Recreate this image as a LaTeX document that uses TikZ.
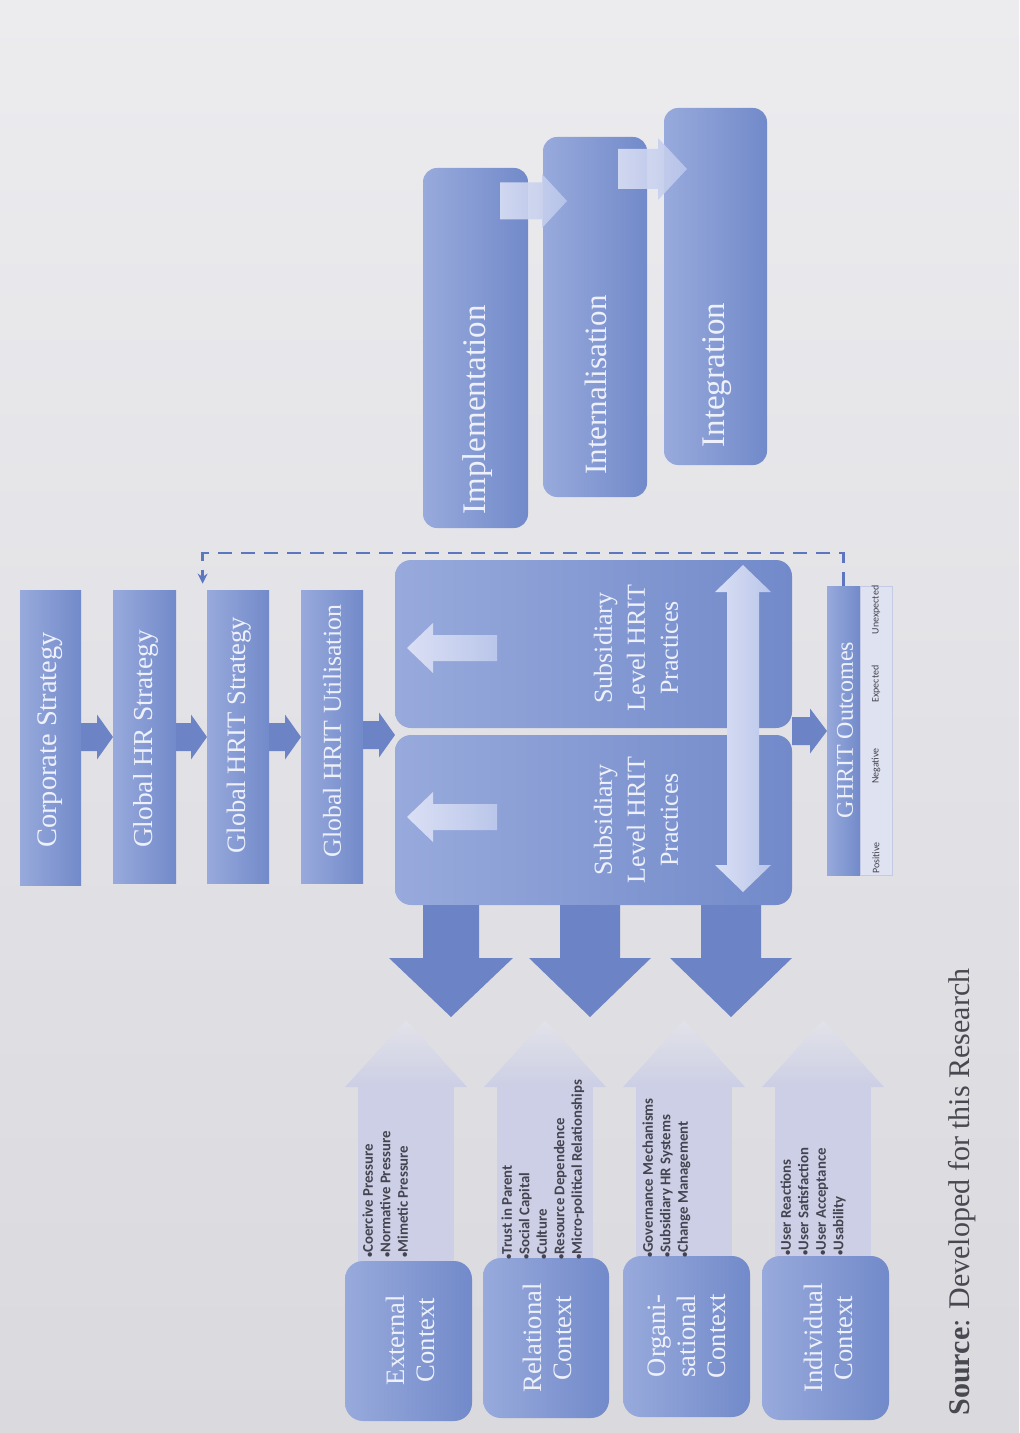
\documentclass[tikz,border=0pt]{standalone}
\usepackage{graphicx}
\usepackage{fontspec}
\setmainfont{Liberation Serif}
\newfontfamily\bulletfont{Carlito}
\usetikzlibrary{arrows.meta,calc}

\definecolor{bgtop}{RGB}{236,236,239}
\definecolor{bgbot}{RGB}{217,217,222}
\definecolor{boxlight}{RGB}{152,170,220}
\definecolor{boxdark}{RGB}{114,138,202}
\definecolor{arrowblue}{RGB}{108,132,198}
\definecolor{paleblue}{RGB}{204,207,229}
\definecolor{paletip}{RGB}{226,226,233}
\definecolor{labelwhite}{RGB}{238,241,251}
\definecolor{bullettext}{RGB}{68,68,80}
\definecolor{fbline}{RGB}{92,118,192}
\definecolor{outlight}{RGB}{223,226,241}
\definecolor{outedge}{RGB}{196,202,228}
\definecolor{glow}{RGB}{218,223,244}
\definecolor{glowdark}{RGB}{186,198,234}
\definecolor{sourcegray}{RGB}{72,72,80}

% small list bullet
\newcommand\bul{\scalebox{0.7}{•}}
% horizontal block arrow: style, shaft start x, head base x, tip x, centre y, shaft half width, head half width
\newcommand\harrow[7]{\path[#1] (#2,#5-#6) -- (#3,#5-#6) -- (#3,#5-#7) -- (#4,#5) -- (#3,#5+#7) -- (#3,#5+#6) -- (#2,#5+#6) -- cycle;}
% vertical block arrow: style, shaft start y, head base y, tip y, centre x, shaft half width, head half width
\newcommand\varrow[7]{\path[#1] (#5-#6,#2) -- (#5-#6,#3) -- (#5-#7,#3) -- (#5,#4) -- (#5+#7,#3) -- (#5+#6,#3) -- (#5+#6,#2) -- cycle;}
% pale upward context arrow: centre x
\newcommand\ctxarrow[1]{%
  \fill[paleblue] (#1-48,1086) rectangle (#1+48,1272);
  \path[top color=paletip,bottom color=paleblue] (#1,1020) -- (#1+61,1087) -- (#1-61,1087) -- cycle;}

\tikzset{
  bluebox/.style={rectangle, inner sep=0pt, draw=none, left color=boxlight, right color=boxdark},
  roundbox/.style={bluebox, rounded corners=8pt},
  boxlabel/.style={rotate=90, text=labelwhite, align=center, inner sep=0pt},
  bullets/.style={rotate=90, anchor=north west, align=left, inner sep=0pt, text=bullettext,
    font=\bulletfont\bfseries\fontsize{7.4}{8.75}\selectfont},
  arrowfill/.style={fill=arrowblue},
  glowfill/.style={left color=glow, right color=glowdark},
  fb/.style={draw=fbline, line width=1.4pt, dash pattern=on 7pt off 4.5pt},
  outtag/.style={rotate=90, inner sep=0pt, text=bullettext, font=\bulletfont\fontsize{5}{6}\selectfont},
}

\begin{document}
\begin{tikzpicture}[x=0.5pt,y=-0.5pt]
\useasboundingbox (0,0) rectangle (1019,1433);
\fill[top color=bgtop,bottom color=bgbot] (0,0) rectangle (1019,1433);

% ---- strategy chain ----
\node[bluebox, minimum width=30.5pt, minimum height=147.5pt] (cs) at (50.5,737.5) {};
\node[bluebox, minimum width=31.5pt, minimum height=146.5pt] (ghr) at (144.5,736.5) {};
\node[bluebox, minimum width=31pt, minimum height=146.5pt] (ghrits) at (238,736.5) {};
\node[bluebox, minimum width=31pt, minimum height=146.5pt] (ghritu) at (332,736.5) {};
\node[boxlabel, font=\fontsize{14.2}{16}\selectfont] (cs-l) at (50,740) {Corporate Strategy};
\node[boxlabel, font=\fontsize{13.7}{16}\selectfont] (ghr-l) at (146,739) {Global HR Strategy};
\node[boxlabel, font=\fontsize{13.3}{16}\selectfont] (ghrits-l) at (239,735) {Global HRIT Strategy};
\node[boxlabel, font=\fontsize{12.9}{16}\selectfont] (ghritu-l) at (332,731) {Global HRIT Utilisation};

\harrow{arrowfill}{81}{97}{113}{737}{14}{22.5}
\harrow{arrowfill}{176}{191}{207}{737}{14}{22.5}
\harrow{arrowfill}{269}{285}{301}{737}{14}{22.5}
\harrow{arrowfill}{363}{379}{395}{735}{14}{22.5}

% ---- subsidiary practices ----
\node[roundbox, minimum width=198.5pt, minimum height=84pt] (subA) at (593.5,644) {};
\node[roundbox, minimum width=198.5pt, minimum height=85pt] (subB) at (593.5,820) {};
\harrow{glowfill}{497}{433}{407}{648}{13}{25}
\harrow{glowfill}{497}{433}{407}{817}{13}{25}
\path[left color=glow, right color=glowdark]
  (743,565) -- (771,592) -- (759,592) -- (759,865) -- (771,865) -- (743,892)
  -- (715,865) -- (727,865) -- (727,592) -- (715,592) -- cycle;
\node[boxlabel, font=\fontsize{13}{16.5}\selectfont] (subA-l) at (636,648) {Subsidiary\\Level HRIT\\Practices};
\node[boxlabel, font=\fontsize{13}{16.5}\selectfont] (subB-l) at (636,820) {Subsidiary\\Level HRIT\\Practices};

\harrow{arrowfill}{792}{810}{827}{731}{14}{22.5}

% ---- outcomes ----
\node[bluebox, minimum width=16.5pt, minimum height=144.5pt] (out) at (843.5,730.5) {};
\node[rectangle, inner sep=0pt, fill=outlight, draw=outedge, line width=0.4pt,
      minimum width=16pt, minimum height=144.5pt] (outlist) at (876,730.5) {};
\node[boxlabel, font=\fontsize{12}{14}\selectfont] (out-l) at (845,730) {GHRIT Outcomes};
\node[outtag] (pos) at (876,858) {Positive};
\node[outtag] (neg) at (876,766) {Negative};
\node[outtag] (exp) at (876,684) {Expected};
\node[outtag] (unexp) at (876,610) {Unexpected};

% feedback loop
\coordinate (fbtop) at (0,553);
\coordinate (fbend) at ($(ghrits.north west)+(-4,-6)$);
\draw[fb, -{Stealth[length=5pt,width=5pt]}] (out.north) -- (out.north |- fbtop) -| (fbend);

% ---- effects on contexts ----
\varrow{arrowfill}{905}{958}{1017}{451}{28}{62}
\varrow{arrowfill}{905}{958}{1017}{590}{30}{61}
\varrow{arrowfill}{905}{958}{1017}{731}{30}{61}

\ctxarrow{406}
\ctxarrow{545}
\ctxarrow{684}
\ctxarrow{823}

\node[roundbox, rounded corners=9pt, minimum width=63.5pt, minimum height=80pt] (ext) at (408.5,1341) {};
\node[roundbox, rounded corners=9pt, minimum width=63pt, minimum height=80pt] (rel) at (546,1338) {};
\node[roundbox, rounded corners=9pt, minimum width=63.5pt, minimum height=80.5pt] (org) at (686.5,1336.5) {};
\node[roundbox, rounded corners=9pt, minimum width=63.5pt, minimum height=82pt] (ind) at (825.5,1338) {};

\node[boxlabel, font=\fontsize{13.3}{15}\selectfont] (ext-l) at (410,1340) {External\\Context};
\node[boxlabel, font=\fontsize{13.3}{15}\selectfont] (rel-l) at (547,1338) {Relational\\Context};
\node[boxlabel, font=\fontsize{13.3}{15}\selectfont] (org-l) at (687,1336) {Organi-\\sational\\Context};
\node[boxlabel, font=\fontsize{13.3}{15}\selectfont] (ind-l) at (828,1338) {Individual\\Context};

\node[bullets] (ext-b) at (362,1258) {\bul Coercive Pressure\\\bul Normative Pressure\\\bul Mimetic Pressure};
\node[bullets] (rel-b) at (501,1260) {\bul Trust in Parent\\\bul Social Capital\\\bul Culture\\\bul Resource Dependence\\\bul Micro-political Relationships};
\node[bullets] (org-b) at (642,1258) {\bul Governance Mechanisms\\\bul Subsidiary HR Systems\\\bul Change Management};
\node[bullets] (ind-b) at (780,1256) {\bul User Reactions\\\bul User Satisfaction\\\bul User Acceptance\\\bul Usability};

% ---- integration stages ----
\node[roundbox, rounded corners=7pt, minimum width=52.5pt, minimum height=180pt] (imp) at (475.5,348) {};
\node[roundbox, rounded corners=7pt, minimum width=52pt, minimum height=180pt] (int) at (595,317) {};
\node[roundbox, rounded corners=7pt, minimum width=51.5pt, minimum height=178.5pt] (itg) at (715.5,286.5) {};
\harrow{glowfill, opacity=0.9}{500}{542}{567}{201}{18.5}{27}
\harrow{glowfill, opacity=0.9}{618}{658}{687}{169}{20}{31}
\node[boxlabel, font=\fontsize{16.5}{18}\selectfont] (imp-l) at (478,410) {Implementation};
\node[boxlabel, font=\fontsize{15.5}{18}\selectfont] (int-l) at (596,385) {Internalisation};
\node[boxlabel, font=\fontsize{16.5}{18}\selectfont] (itg-l) at (717,375) {Integration};

% ---- source line ----
\node[rotate=90, inner sep=0pt, text=sourcegray, font=\fontsize{15}{18}\selectfont] (src) at (962,1192)
  {\textbf{Source}: Developed for this Research};
\end{tikzpicture}
\end{document}
